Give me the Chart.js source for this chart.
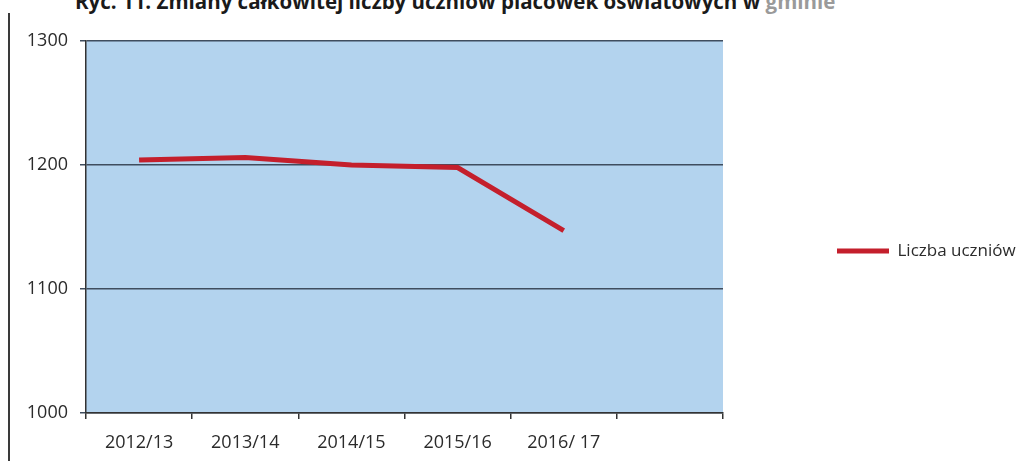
<!DOCTYPE html>
<html>
<head>
<meta charset="utf-8">
<script src="https://cdn.jsdelivr.net/npm/chart.js@4/dist/chart.umd.min.js"></script>
<style>
    body { margin: 0; background: #fff; overflow: hidden; }
    #wrap { position: relative; width: 1016px; height: 461px; }
    #title {
        position: absolute; left: 75px; top: -13px; white-space: nowrap;
        font-family: "Open Sans", sans-serif; font-weight: bold; font-size: 20.5px; color: #1a1a1a;
    }
    #title span { color: #9a9a9a; }
    #scanline { position: absolute; left: 8px; top: 13px; width: 2px; height: 448px; background: #3a3a3a; }
    canvas { position: absolute; left: 0; top: 0; }
</style>
</head>
<body>
<div id="wrap">
    <div id="title">Ryc. 11. Zmiany całkowitej liczby uczniów placówek oświatowych w <span>gminie</span></div>
    <div id="scanline"></div>
    <canvas id="chart" width="1016" height="461"></canvas>
</div>
<script>
const years = ['2012/13', '2013/14', '2014/15', '2015/16', '2016/ 17', '']
const students = [1204, 1206, 1200, 1198, 1147, null]
const yTicks = [1000, 1100, 1200, 1300]

// light blue fill behind the plot area, like the Excel original
const plotBackground = {
    id: 'plotBackground',
    beforeDraw: function (chart){
        const area = chart.chartArea
        const ctx = chart.ctx
        ctx.save()
        ctx.fillStyle = '#b3d3ee'
        ctx.fillRect(area.left, area.top, area.right - area.left, area.bottom - area.top)
        ctx.restore()
    }
}

const ctx = document.getElementById('chart').getContext('2d')
new Chart(ctx, {
    type: 'line',
    data: {
        labels: years,
        datasets: [{
            label: 'Liczba uczniów',
            data: students,
            borderColor: '#c41f2c',
            backgroundColor: '#c41f2c',
            borderWidth: 5,
            pointRadius: 0,
            tension: 0,
            spanGaps: false
        }]
    },
    options: {
        responsive: false,
        animation: false,
        layout: { padding: { left: 0, top: 41, right: 0, bottom: 0 } },
        plugins: {
            legend: {
                position: 'right',
                maxWidth: 181,
                labels: {
                    usePointStyle: true,
                    pointStyle: 'line',
                    pointStyleWidth: 52,
                    color: '#2b2b2b',
                    font: { family: 'Open Sans', size: 17 },
                    padding: 2
                }
            },
            tooltip: { enabled: false }
        },
        scales: {
            x: {
                offset: true,
                afterFit: function (scale){ scale.height = 48 },
                grid: {
                    offset: true,
                    drawOnChartArea: false,
                    drawTicks: true,
                    tickLength: 6,
                    color: '#333',
                    lineWidth: 1.5
                },
                border: { color: '#333', width: 1.5 },
                ticks: {
                    color: '#2b2b2b',
                    font: { family: 'Open Sans', size: 18 },
                    padding: 13,
                    maxRotation: 0
                }
            },
            y: {
                min: 1000,
                max: 1300,
                afterFit: function (scale){ scale.width = 86 },
                afterBuildTicks: function (scale){
                    scale.ticks = yTicks.map(function (v){ return { value: v } })
                },
                grid: {
                    color: '#3f4d5e',
                    lineWidth: 1.5,
                    tickLength: 6
                },
                border: { color: '#333', width: 1.5 },
                ticks: {
                    color: '#2b2b2b',
                    font: { family: 'Open Sans', size: 18 },
                    padding: 12,
                    callback: function (value){ return String(value) }
                }
            },
            // empty spacer between plot and legend (white gap in the original)
            gap: {
                type: 'linear',
                position: 'right',
                display: true,
                afterFit: function (scale){ scale.width = 112 },
                grid: { display: false },
                border: { display: false },
                ticks: { display: false }
            }
        }
    },
    plugins: [plotBackground]
})
</script>
</body>
</html>
